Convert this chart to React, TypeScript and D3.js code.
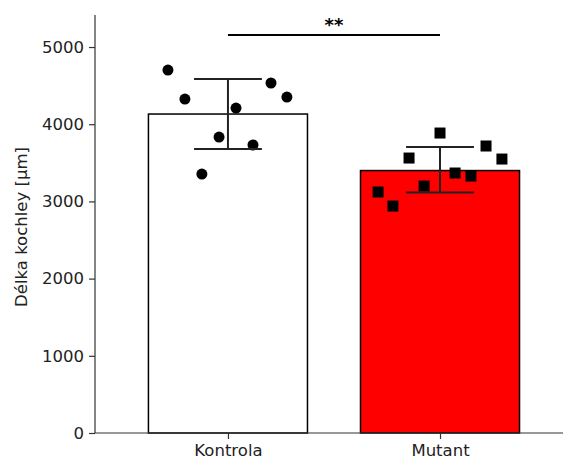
import React, { useEffect, useRef } from "react";
import * as d3 from "d3";

const groups = ["Kontrola", "Mutant"];
const barMeans = [4132, 3400];
const errLow = [3679, 3115];
const errHigh = [4585, 3705];
const barColors = ["#ffffff", "#ff0000"];

const kontrolaVals = [4702, 4326, 4534, 4352, 4210, 3834, 3731, 3355];
const kontrolaJitter = [-0.283, -0.203, 0.203, 0.278, 0.038, -0.042, 0.118, -0.123];
const mutantVals = [3886, 3718, 3562, 3549, 3368, 3329, 3199, 3122, 2940];
const mutantJitter = [0, 0.217, -0.146, 0.292, 0.071, 0.146, -0.075, -0.292, -0.222];

const yTicks = [0, 1000, 2000, 3000, 4000, 5000];

const App = () => {
  const svgRef = useRef<SVGSVGElement>(null);

  useEffect(() => {
    const svg = d3.select(svgRef.current);
    svg.selectAll("*").remove();

    const left = 95, right = 563, top = 15, bottom = 433;
    const font = "DejaVu Sans, sans-serif";
    const fs = 16.5;

    const x = d3.scaleLinear().domain([-0.627, 1.58]).range([left, right]);
    const y = d3.scaleLinear().domain([0, 5415]).range([bottom, top]);
    const barW = 0.75;

    // bars
    svg
      .selectAll("rect.bar")
      .data(barMeans)
      .join("rect")
      .attr("class", "bar")
      .attr("x", (d, i) => x(i - barW / 2))
      .attr("width", x(barW) - x(0))
      .attr("y", (d) => y(d))
      .attr("height", (d) => y(0) - y(d))
      .attr("fill", (d, i) => barColors[i])
      .attr("stroke", "#000")
      .attr("stroke-width", 1.5);

    // points
    const pts = svg.append("g");
    kontrolaVals.forEach((v, i) => {
      pts
        .append("circle")
        .attr("cx", x(0 + kontrolaJitter[i]))
        .attr("cy", y(v))
        .attr("r", 5.5)
        .attr("fill", "#000");
    });
    mutantVals.forEach((v, i) => {
      pts
        .append("rect")
        .attr("x", x(1 + mutantJitter[i]) - 5.5)
        .attr("y", y(v) - 5.5)
        .attr("width", 11)
        .attr("height", 11)
        .attr("fill", "#000");
    });

    // error bars
    const capW = 0.16;
    groups.forEach((g, i) => {
      const eb = svg.append("g").attr("stroke", "#222").attr("stroke-width", 2);
      eb.append("line")
        .attr("x1", x(i)).attr("x2", x(i))
        .attr("y1", y(errLow[i])).attr("y2", y(errHigh[i]));
      [errLow[i], errHigh[i]].forEach((v) => {
        eb.append("line")
          .attr("x1", x(i - capW)).attr("x2", x(i + capW))
          .attr("y1", y(v)).attr("y2", y(v));
      });
    });

    // axes
    const yAxis = svg
      .append("g")
      .attr("transform", "translate(" + left + ",0)")
      .call(d3.axisLeft(y).tickValues(yTicks).tickFormat(d3.format("d")).tickSize(6).tickPadding(5));
    const xAxis = svg
      .append("g")
      .attr("transform", "translate(0," + bottom + ")")
      .call(d3.axisBottom(x).tickValues([0, 1]).tickFormat((d) => groups[+d]).tickSize(6).tickPadding(5));
    [yAxis, xAxis].forEach((a) => {
      a.selectAll("text").attr("font-family", font).attr("font-size", fs).attr("fill", "#222");
      a.selectAll("line").attr("stroke", "#333").attr("stroke-width", 1.2);
      a.select(".domain").attr("stroke", "#333").attr("stroke-width", 1.2);
    });
    yAxis.select(".domain").attr("d", `M0,${top}V${bottom}`);
    xAxis.select(".domain").attr("d", `M${left},0H${right}`);

    svg
      .append("text")
      .attr("transform", `translate(27,227) rotate(-90)`)
      .attr("text-anchor", "middle")
      .attr("font-family", font)
      .attr("font-size", fs)
      .attr("fill", "#222")
      .text("Délka kochley [µm]");

    // significance
    svg
      .append("line")
      .attr("x1", x(0)).attr("x2", x(1))
      .attr("y1", 35).attr("y2", 35)
      .attr("stroke", "#000")
      .attr("stroke-width", 2);
    svg
      .append("text")
      .attr("x", x(0.5))
      .attr("y", 31)
      .attr("text-anchor", "middle")
      .attr("font-family", font)
      .attr("font-size", 18)
      .attr("font-weight", "bold")
      .text("**");
  }, []);

  return <svg ref={svgRef} width={564} height={461} style={{ position: "absolute", left: 0, top: 0 }}></svg>;
};

export default App;
